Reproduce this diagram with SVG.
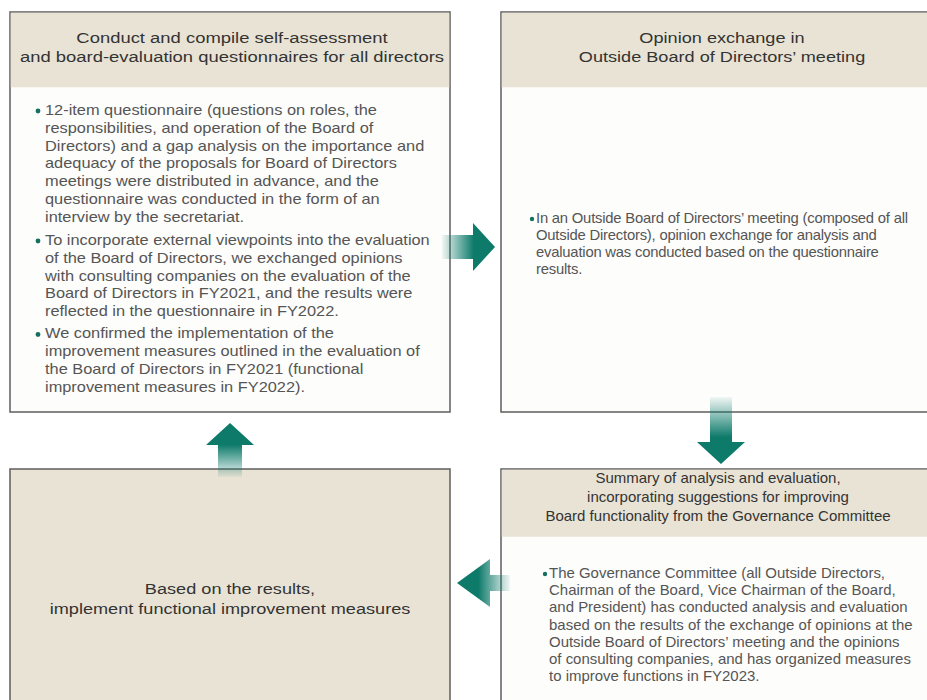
<svg xmlns="http://www.w3.org/2000/svg" width="927" height="700" viewBox="0 0 927 700">
<style>
.frame{fill:#fdfdfc;stroke:#5e5e5e;stroke-width:1.5}
.hdr{fill:#e9e3d5}
.ht{font-family:"Liberation Sans",Arial,sans-serif;font-size:15.5px;fill:#333;text-anchor:middle}
.bt{font-family:"Liberation Sans",Arial,sans-serif;font-size:14px;fill:#555}
.dot{fill:#17705f}
</style>
<defs>
<linearGradient id="gR" x1="0" y1="0" x2="1" y2="0">
<stop offset="0" stop-color="#0d7a6a" stop-opacity="0.05"/>
<stop offset="0.6" stop-color="#0d7a6a"/>
<stop offset="1" stop-color="#0d7a6a"/>
</linearGradient>
<linearGradient id="gL" x1="1" y1="0" x2="0" y2="0">
<stop offset="0" stop-color="#0d7a6a" stop-opacity="0.05"/>
<stop offset="0.6" stop-color="#0d7a6a"/>
<stop offset="1" stop-color="#0d7a6a"/>
</linearGradient>
<linearGradient id="gD" x1="0" y1="0" x2="0" y2="1">
<stop offset="0" stop-color="#0d7a6a" stop-opacity="0.05"/>
<stop offset="0.6" stop-color="#0d7a6a"/>
<stop offset="1" stop-color="#0d7a6a"/>
</linearGradient>
<linearGradient id="gU" x1="0" y1="1" x2="0" y2="0">
<stop offset="0" stop-color="#0d7a6a" stop-opacity="0.05"/>
<stop offset="0.6" stop-color="#0d7a6a"/>
<stop offset="1" stop-color="#0d7a6a"/>
</linearGradient>
</defs>
<rect width="927" height="700" fill="#fff"/>

<g id="node-conduct">
<rect class="frame" x="10" y="12" width="440" height="400"/>
<rect class="hdr" x="10.75" y="12.75" width="438.5" height="74.5"/>
<text class="ht" transform="translate(232 0) scale(1.19 1)"><tspan x="0" y="43">Conduct and compile self-assessment</tspan><tspan x="0" y="62">and board-evaluation questionnaires for all directors</tspan></text>
<circle class="dot" cx="38" cy="111" r="2.4"/>
<circle class="dot" cx="38" cy="241" r="2.4"/>
<circle class="dot" cx="38" cy="334.5" r="2.4"/>
<text class="bt" transform="translate(45 0) scale(1.17 1)">
<tspan x="0" y="115">12-item questionnaire (questions on roles, the</tspan>
<tspan x="0" y="132.8">responsibilities, and operation of the Board of</tspan>
<tspan x="0" y="150.6">Directors) and a gap analysis on the importance and</tspan>
<tspan x="0" y="168.4">adequacy of the proposals for Board of Directors</tspan>
<tspan x="0" y="186.2">meetings were distributed in advance, and the</tspan>
<tspan x="0" y="204">questionnaire was conducted in the form of an</tspan>
<tspan x="0" y="221.8">interview by the secretariat.</tspan>
<tspan x="0" y="245">To incorporate external viewpoints into the evaluation</tspan>
<tspan x="0" y="262.8">of the Board of Directors, we exchanged opinions</tspan>
<tspan x="0" y="280.6">with consulting companies on the evaluation of the</tspan>
<tspan x="0" y="298.4">Board of Directors in FY2021, and the results were</tspan>
<tspan x="0" y="316.2">reflected in the questionnaire in FY2022.</tspan>
<tspan x="0" y="338.5">We confirmed the implementation of the</tspan>
<tspan x="0" y="356.3">improvement measures outlined in the evaluation of</tspan>
<tspan x="0" y="374.1">the Board of Directors in FY2021 (functional</tspan>
<tspan x="0" y="391.9">improvement measures in FY2022).</tspan>
</text>
</g>

<g id="node-opinion">
<rect class="frame" x="501" y="12" width="450" height="400"/>
<rect class="hdr" x="501.75" y="12.75" width="448" height="74.5"/>
<text class="ht" transform="translate(722 0) scale(1.17 1)"><tspan x="0" y="43">Opinion exchange in</tspan><tspan x="0" y="62">Outside Board of Directors’ meeting</tspan></text>
<circle class="dot" cx="532" cy="219" r="2.2"/>
<text class="bt" transform="translate(536 0) scale(1.06 1)" style="letter-spacing:-0.2px">
<tspan x="0" y="223">In an Outside Board of Directors’ meeting (composed of all</tspan>
<tspan x="0" y="240">Outside Directors), opinion exchange for analysis and</tspan>
<tspan x="0" y="257">evaluation was conducted based on the questionnaire</tspan>
<tspan x="0" y="274">results.</tspan>
</text>
</g>

<g id="node-summary">
<rect class="frame" x="501" y="469" width="450" height="260"/>
<rect class="hdr" x="501.75" y="469.75" width="448" height="67"/>
<text class="ht" style="font-size:15px" transform="translate(718 0) scale(1.0 1)"><tspan x="0" y="483">Summary of analysis and evaluation,</tspan><tspan x="0" y="502">incorporating suggestions for improving</tspan><tspan x="0" y="521">Board functionality from the Governance Committee</tspan></text>
<circle class="dot" cx="545" cy="574" r="2.2"/>
<text class="bt" transform="translate(549 0) scale(1.07 1)">
<tspan x="0" y="578">The Governance Committee (all Outside Directors,</tspan>
<tspan x="0" y="595.2">Chairman of the Board, Vice Chairman of the Board,</tspan>
<tspan x="0" y="612.4">and President) has conducted analysis and evaluation</tspan>
<tspan x="0" y="629.6">based on the results of the exchange of opinions at the</tspan>
<tspan x="0" y="646.8">Outside Board of Directors’ meeting and the opinions</tspan>
<tspan x="0" y="664">of consulting companies, and has organized measures</tspan>
<tspan x="0" y="681.2">to improve functions in FY2023.</tspan>
</text>
</g>

<g id="node-implement">
<rect x="10" y="469" width="440" height="260" fill="#e9e3d5" stroke="#5e5e5e" stroke-width="1.5"/>
<text class="ht" transform="translate(230 0) scale(1.17 1)"><tspan x="0" y="594">Based on the results,</tspan><tspan x="0" y="614">implement functional improvement measures</tspan></text>
</g>

<g id="connectors">
<path d="M442 235 H473 V223 L495 247 L473 271 V259 H442 Z" fill="url(#gR)"/>
<path d="M710 397 V442 H697 L721 464 L745 442 H732 V397 Z" fill="url(#gD)"/>
<path d="M510 575 H490 V559 L457 583 L490 607 V591 H510 Z" fill="url(#gL)"/>
<path d="M218 477 V445 H206 L230 423 L254 445 H242 V477 Z" fill="url(#gU)"/>
</g>
</svg>
